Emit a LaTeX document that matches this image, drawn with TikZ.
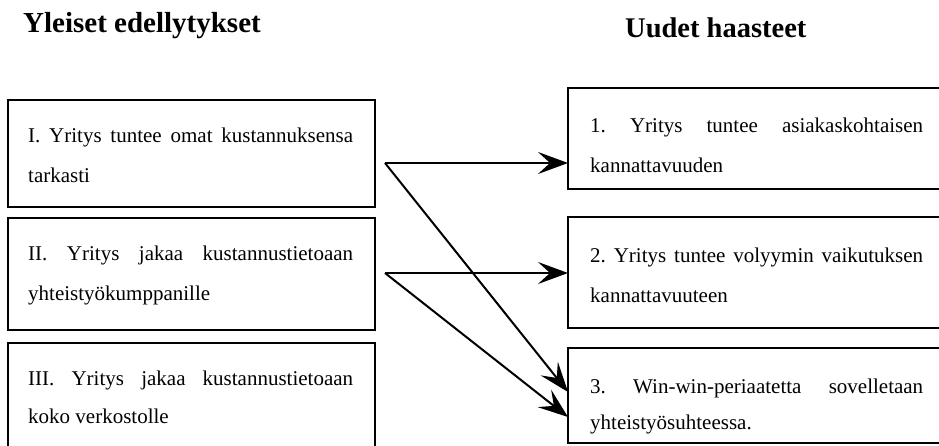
\documentclass[tikz,border=0pt]{standalone}
\usepackage{fontspec}
\setmainfont{Liberation Serif}
\usetikzlibrary{arrows.meta,calc}

\tikzset{
  box/.style={draw=black, line width=1.5pt, rectangle, inner sep=0pt, outer sep=0pt},
  heading/.style={anchor=base west, inner sep=0pt, font=\bfseries\fontsize{29}{34}\selectfont},
  line/.style={anchor=base west, inner sep=0pt, font=\fontsize{21}{25}\selectfont},
  link/.style={line width=2pt, -{Stealth[length=30pt,width=22pt,inset=12pt]}},
}
% justified first line of a box text
\newcommand{\jline}[2]{\makebox[#1][s]{#2}}
\frenchspacing

\begin{document}
\begin{tikzpicture}[x=1pt,y=-1pt]
\useasboundingbox (0,0) rectangle (939,445);

% headings
\node[heading] (hl) at (23,32) {Yleiset edellytykset};
\node[heading, font=\bfseries\fontsize{28.5}{34}\selectfont] (hr) at (625,37) {Uudet haasteet};

% left column boxes
\node[box, minimum width=367pt, minimum height=107pt] (L1) at (191.5,153.5) {};
\node[box, minimum width=367pt, minimum height=112pt] (L2) at (191.5,274) {};
\node[box, minimum width=367pt, minimum height=117pt] (L3) at (191.5,401.5) {};

% right column boxes
\node[box, minimum width=382pt, minimum height=101pt] (R1) at (759,138.5) {};
\node[box, minimum width=382pt, minimum height=111pt] (R2) at (759,272.5) {};
\node[box, minimum width=382pt, minimum height=95pt] (R3) at (759,395.5) {};

% left texts
\node[line] (L1a) at (28,142) {\jline{325pt}{I. Yritys tuntee omat kustannuksensa}};
\node[line] (L1b) at (28,182) {tarkasti};
\node[line] (L2a) at (28,260) {\jline{325pt}{II. Yritys jakaa kustannustietoaan}};
\node[line] (L2b) at (28,300) {yhteistyökumppanille};
\node[line] (L3a) at (28,385) {\jline{325pt}{III. Yritys jakaa kustannustietoaan}};
\node[line] (L3b) at (28,423) {koko verkostolle};

% right texts
\node[line] (R1a) at (590,132) {\jline{333pt}{1. Yritys tuntee asiakaskohtaisen}};
\node[line] (R1b) at (590,172) {kannattavuuden};
\node[line] (R2a) at (590,262) {\jline{333pt}{2. Yritys tuntee volyymin vaikutuksen}};
\node[line] (R2b) at (590,302) {kannattavuuteen};
\node[line] (R3a) at (590,393) {\jline{333pt}{3. Win-win-periaatetta sovelletaan}};
\node[line] (R3b) at (590,429) {yhteistyösuhteessa.};

% connectors
\coordinate (s1) at ($(L1.east)+(10,9.5)$);
\coordinate (s2) at ($(L2.east)+(10,-1)$);
\coordinate (e1) at ($(R3.west)+(0,-3.5)$);
\coordinate (e2) at ($(R3.west)+(0,21.5)$);

\draw[link] (s1) -- (R1.west |- s1);
\draw[link] (s2) -- (R2.west |- s2);
\draw[link] (s1) -- (e1);
\draw[link] (s2) -- (e2);
\end{tikzpicture}
\end{document}
